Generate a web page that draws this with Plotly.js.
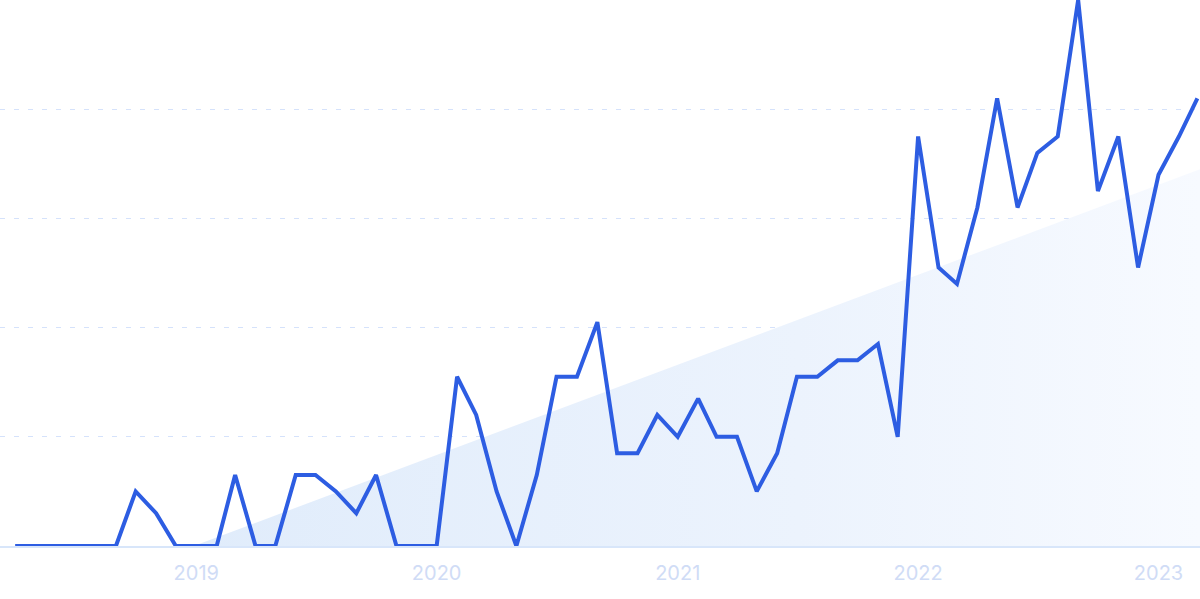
<!DOCTYPE html>
<html>
<head>
<meta charset="utf-8">
<script src="https://cdn.plot.ly/plotly-3.0.1.min.js"></script>
<style>
html,body{margin:0;padding:0;background:#fff;}
#chart{width:1200px;height:599px;}
</style>
</head>
<body>
<div id="chart"></div>
<script>
// Monthly dates, April 2018 .. March 2023
const months = [
  '2018-04-01','2018-05-01','2018-06-01','2018-07-01','2018-08-01','2018-09-01','2018-10-01','2018-11-01','2018-12-01',
  '2019-01-01','2019-02-01','2019-03-01','2019-04-01','2019-05-01','2019-06-01','2019-07-01','2019-08-01','2019-09-01','2019-10-01','2019-11-01','2019-12-01',
  '2020-01-01','2020-02-01','2020-03-01','2020-04-01','2020-05-01','2020-06-01','2020-07-01','2020-08-01','2020-09-01','2020-10-01','2020-11-01','2020-12-01',
  '2021-01-01','2021-02-01','2021-03-01','2021-04-01','2021-05-01','2021-06-01','2021-07-01','2021-08-01','2021-09-01','2021-10-01','2021-11-01','2021-12-01',
  '2022-01-01','2022-02-01','2022-03-01','2022-04-01','2022-05-01','2022-06-01','2022-07-01','2022-08-01','2022-09-01','2022-10-01','2022-11-01','2022-12-01',
  '2023-01-01','2023-02-01','2023-03-01'
];
const interest = [
  0, 0, 0, 0, 0, 0, 10, 6, 0,
  0, 0, 13, 0, 0, 13, 13, 10, 6, 13, 0, 0,
  0, 31, 24, 10, 0, 13, 31, 31, 41, 17, 17, 24,
  20, 27, 20, 20, 10, 17, 31, 31, 34, 34, 37, 20,
  75, 51, 48, 62, 82, 62, 72, 75, 100, 65, 75, 51,
  68, 75, 82
];
// Trend band (linear trend)
const trendDates = ['2018-12-28', '2023-03-05'];
const trendValues = [0, 69];

const yearTicks = ['2019-01-01','2020-01-01','2021-01-01','2022-01-01','2023-01-01'];
const yearLabels = ['2019','2020','2021','2022','2023'];
const gridValues = [20, 40, 60, 80, 100];

const traces = [
  {
    x: trendDates, y: trendValues,
    type: 'scatter', mode: 'lines',
    line: {width: 0, color: 'rgba(0,0,0,0)'},
    fill: 'tozeroy',
    fillgradient: {
      type: 'horizontal',
      colorscale: [[0, 'rgba(224,236,251,1)'], [0.6, 'rgba(236,243,253,1)'], [1, 'rgba(247,250,255,1)']]
    },
    hoverinfo: 'skip', showlegend: false
  },
  {
    x: months, y: interest,
    type: 'scatter', mode: 'lines',
    line: {color: '#2d5de2', width: 4, shape: 'linear'},
    hoverinfo: 'skip', showlegend: false
  }
];

const layout = {
  width: 1200, height: 599,
  margin: {l: 0, r: 0, t: 0, b: 53, pad: 0},
  paper_bgcolor: '#ffffff', plot_bgcolor: '#ffffff',
  showlegend: false,
  font: {family: 'Inter, "Open Sans", sans-serif'},
  xaxis: {
    type: 'date',
    range: ['2018-03-09', '2023-03-05'],
    tickmode: 'array', tickvals: yearTicks, ticktext: yearLabels,
    tickfont: {size: 20, color: '#d0dcf6', family: 'Inter, "Open Sans", sans-serif'},
    ticklabelstandoff: 8,
    ticks: '', showgrid: false, zeroline: false,
    showline: true, linecolor: '#d8e6fa', linewidth: 1.5,
    fixedrange: true
  },
  yaxis: {
    range: [0, 100],
    tickmode: 'array', tickvals: gridValues,
    showticklabels: false, ticks: '',
    showgrid: true, gridcolor: '#d5e2fb', gridwidth: 1, griddash: '5px,9px',
    zeroline: false, showline: false,
    fixedrange: true
  }
};

Plotly.newPlot('chart', traces, layout, {displayModeBar: false, staticPlot: true});
</script>
</body>
</html>
